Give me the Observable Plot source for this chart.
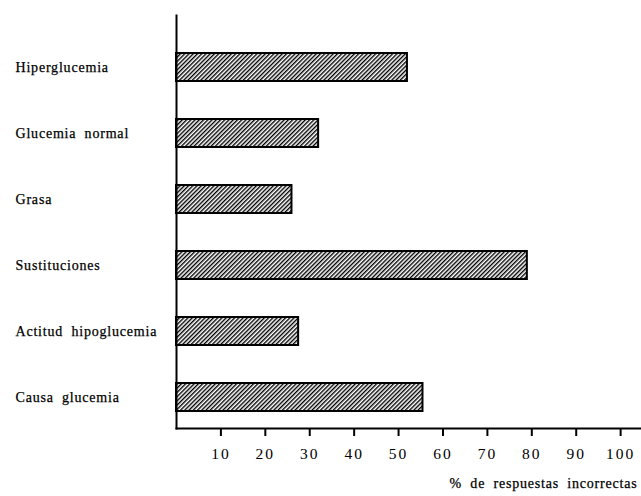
<!DOCTYPE html>
<html>
<head>
<meta charset="utf-8">
<script src="https://cdn.jsdelivr.net/npm/d3@7"></script>
<script src="https://cdn.jsdelivr.net/npm/@observablehq/plot@0.6"></script>
<style>
  html, body { margin: 0; padding: 0; background: #fff; }
</style>
</head>
<body>
<div id="chart"></div>
<script>
const categories = ["Hiperglucemia", "Glucemia normal", "Grasa", "Sustituciones", "Actitud hipoglucemia", "Causa glucemia"];
const values = [52, 32, 26, 79, 27.5, 55.5];
const xTicks = [10, 20, 30, 40, 50, 60, 70, 80, 90, 100];
const xTitle = "% de respuestas incorrectas";

const data = categories.map((c, i) => ({cat: c, value: values[i]}));

const svg = Plot.plot({
  width: 641,
  height: 496,
  marginLeft: 176,
  marginRight: 0,
  marginTop: 15,
  marginBottom: 68,
  style: {fontFamily: "'Liberation Serif', serif", background: "white", color: "black"},
  x: {domain: [0, 104.7], axis: null},
  y: {domain: categories, axis: null, paddingInner: 0.58, paddingOuter: 0.38, align: 0.686},
  marks: [
    Plot.barX(data, {x: "value", y: "cat", fill: "url(#hatch)", stroke: "black", strokeWidth: 2}),
    Plot.frame({anchor: "left", strokeWidth: 2}),
    Plot.frame({anchor: "bottom", strokeWidth: 2}),
    Plot.axisX({ticks: xTicks, tickSize: 8, tickPadding: 11, fontSize: 15.5, label: null, strokeWidth: 2}),
    Plot.text(categories, {y: d => d, frameAnchor: "left", dx: -161, textAnchor: "start", fontSize: 14, fill: "black"}),
    Plot.text([xTitle], {frameAnchor: "bottom-right", dx: -4, dy: 59, textAnchor: "end", fontSize: 14, fill: "black"})
  ]
});

const s = d3.select(svg);
const defs = s.insert("defs", ":first-child");
const pat = defs.append("pattern")
  .attr("id", "hatch")
  .attr("patternUnits", "userSpaceOnUse")
  .attr("width", 3)
  .attr("height", 3)
  .attr("patternTransform", "rotate(45)");
pat.append("rect").attr("width", 3).attr("height", 3).attr("fill", "white");
pat.append("rect").attr("width", 1.4).attr("height", 3).attr("fill", "black");
s.selectAll("g[aria-label='x-axis tick label'] text").attr("letter-spacing", "2px");
s.selectAll("g[aria-label='text'] text")
  .attr("letter-spacing", "0.8px")
  .attr("word-spacing", "4px")
  .attr("stroke", "black")
  .attr("stroke-width", 0.25);

document.getElementById("chart").appendChild(svg);
</script>
</body>
</html>
